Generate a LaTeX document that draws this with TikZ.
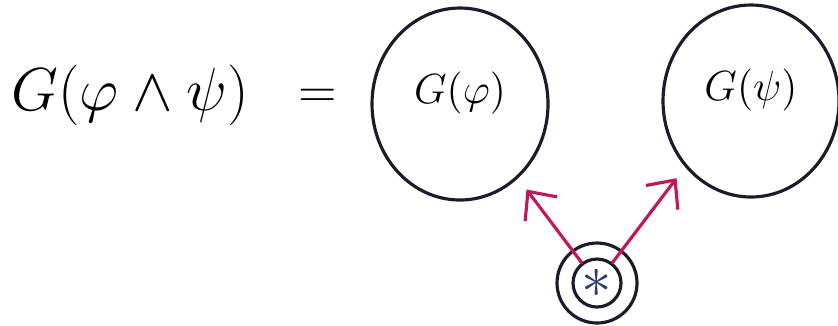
\documentclass[tikz,border=0pt]{standalone}
\usetikzlibrary{arrows.meta,shapes.geometric}
\begin{document}
\begin{tikzpicture}[line cap=round, line width=0.9pt,
  bubble/.style={draw=inkBlack, ellipse, minimum width=1.76cm, minimum height=1.92cm,
    inner sep=0pt, align=center, font=\fontsize{13}{15}\selectfont},
  ring/.style={draw=inkBlack, circle, inner sep=0pt},
  edge/.style={draw=inkRed, -{Straight Barb[length=2.2mm,width=4mm]}, shorten >=0.14cm}]
  \definecolor{inkBlack}{HTML}{1B1B2A}
  \definecolor{inkRed}{HTML}{C2185B}
  \definecolor{inkBlue}{HTML}{2C3E70}
  \useasboundingbox (0,0) rectangle (8.38,-3.25);

  \node[anchor=base west, inner sep=0pt, font=\fontsize{19}{22}\selectfont] (lhs)
    at (0.10,-1.10) {$G(\varphi\wedge\psi)$};
  \node[font=\fontsize{14}{16}\selectfont] (eq) at (3.18,-0.98) {$=$};

  \node[bubble] (gphi) at (4.60,-1.04) {$G(\varphi)$\\[-0.2cm]};
  \node[bubble] (gpsi) at (7.51,-1.01) {$G(\psi)$\\[-0.2cm]};

  \node[ring, minimum size=0.48cm, text=inkBlue, font=\fontsize{16}{16}\selectfont]
    (start) at (5.97,-2.83) {$\ast$};
  \node[ring, minimum size=0.80cm] (startring) at (start) {};

  \draw[edge] (start) -- (gphi.-52);
  \draw[edge] (start) -- (gpsi.-135);
\end{tikzpicture}
\end{document}
